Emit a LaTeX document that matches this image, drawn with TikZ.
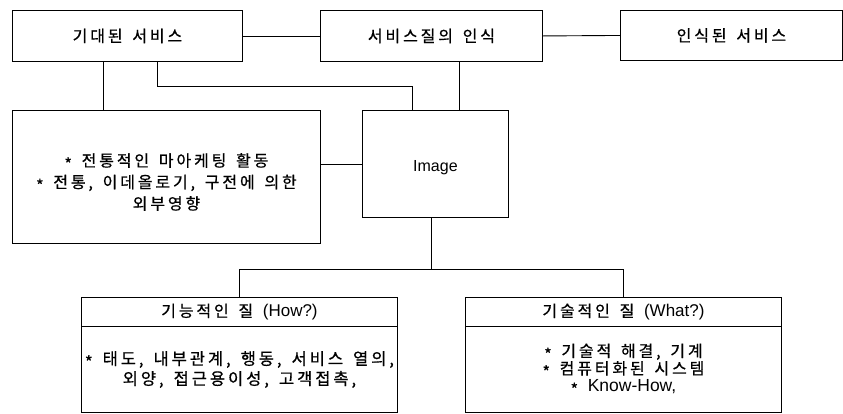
\documentclass[tikz,border=0pt]{standalone}
\usepackage{fontspec}
\setmainfont{Noto Sans CJK KR}[LetterSpace=18, WordSpace=1.5, FakeBold=0.7]
\newfontfamily\latf{Liberation Sans}
\newcommand{\lt}[1]{{\latf\fontsize{17}{19}\selectfont #1}}
\newcommand{\bul}{\raisebox{-0.22em}{*}}
\begin{document}
\begin{tikzpicture}[x=1pt,y=-1pt,
  box/.style={draw, line width=0.9pt, inner sep=0pt, anchor=north west, align=center},
  txt/.style={inner sep=0pt, align=center},
  ln/.style={line width=0.9pt},
  tt/.style={font=\fontsize{16}{19}\selectfont},
  bt/.style={font=\fontsize{16}{21.5}\selectfont},
  st/.style={font=\fontsize{16.5}{20}\selectfont\addfontfeature{LetterSpace=18}}]
\useasboundingbox (0,0) rectangle (843,413);
\node[box, tt, minimum width=230pt, minimum height=51pt] (b1) at (12,10) {기대된 서비스};
\node[box, tt, minimum width=222pt, minimum height=51pt] (b2) at (320,10) {서비스질의 인식};
\node[box, tt, minimum width=222pt, minimum height=50pt] (b3) at (620,10) {인식된 서비스};
\node[box, minimum width=308pt, minimum height=133pt] (lb) at (12,110) {};
\node[txt, bt] (lbt) at ([yshift=-5pt]lb.center) {\bul{} 전통적인 마아케팅 활동\\\bul{} 전통, 이데올로기, 구전에 의한\\외부영향};
\node[box, minimum width=146pt, minimum height=107pt] (img) at (362,110) {};
\node[txt, font=\latf\fontsize{16}{18}\selectfont] (imgt) at ([yshift=-4pt]img.center) {Image};
\node[box, tt, minimum width=316pt, minimum height=29pt] (hL) at (81,297) {기능적인 질 \lt{(How?)}};
\node[box, minimum width=316pt, minimum height=86pt] (bL) at (81,326) {};
\node[txt, st] (bLt) at (bL.center) {\bul{} 태도, 내부관계, 행동, 서비스 열의,\\외양, 접근용이성, 고객접촉,};
\node[box, tt, minimum width=316pt, minimum height=29pt] (hR) at (465,297) {기술적인 질 \lt{(What?)}};
\node[box, font=\fontsize{16}{17.5}\selectfont, minimum width=316pt, minimum height=86pt] (bR) at (465,326) {\bul{} 기술적 해결, 기계\\\bul{} 컴퓨터화된 시스템\\\bul{} {\latf\fontsize{17.5}{17.5}\selectfont Know-How,}};
\draw[ln] (b1.east) -- (b2.west);
\draw[ln] (b2.east) -- (b3.west);
\draw[ln] ([xshift=91pt]b1.south west) -- ([xshift=91pt]b1.south west |- lb.north);
\draw[ln] ([xshift=145pt]b1.south west) -- ++(0,25) -| ([xshift=50pt]img.north west);
\draw[ln] ([xshift=139pt]b2.south west) -- ([xshift=139pt]b2.south west |- img.north);
\draw[ln] (lb.east |- img.west) -- (img.west);
\draw[ln] ([xshift=69pt]img.south west) -- ++(0,52) coordinate (j);
\draw[ln] (hL.north) |- (j) -| (hR.north);
\end{tikzpicture}
\end{document}
